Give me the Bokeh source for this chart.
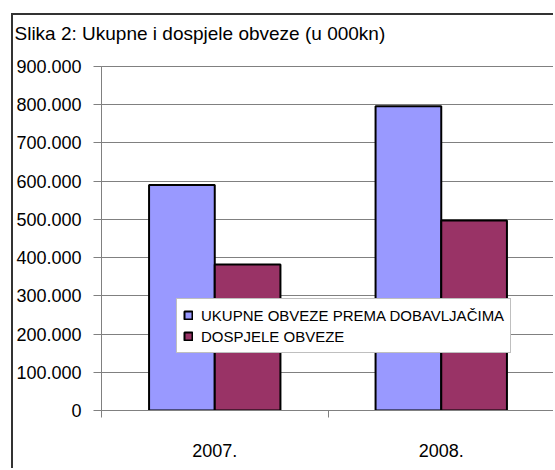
from bokeh.plotting import figure
from bokeh.models import (ColumnDataSource, Range1d, FixedTicker, Legend, LegendItem, Title)
from bokeh.transform import dodge
from bokeh.embed import file_html
from bokeh.resources import INLINE

title = "Slika 2: Ukupne i dospjele obveze (u 000kn)"
years = ["2007.", "2008."]
series_names = ["UKUPNE OBVEZE PREMA DOBAVLJAČIMA", "DOSPJELE OBVEZE"]
ukupne = [590000, 796000]
dospjele = [382000, 497000]
y_ticks = [0, 100000, 200000, 300000, 400000, 500000, 600000, 700000, 800000, 900000]
y_tick_labels = ["0", "100.000", "200.000", "300.000", "400.000", "500.000",
                 "600.000", "700.000", "800.000", "900.000"]
colors = ["#9999FF", "#993366"]

FONT = "Liberation Sans"
GRAY = "#808080"

x_centers = [i + 0.5 for i in range(len(years))]
source = ColumnDataSource(data=dict(x=x_centers, ukupne=ukupne, dospjele=dospjele))

p = figure(width=542, height=455, output_backend="svg", toolbar_location=None,
           x_range=Range1d(0, len(years)), y_range=Range1d(0, 900000),
           min_border_left=87, min_border_right=1, min_border_top=51, min_border_bottom=60)
p.styles = {"margin-left": "11px", "margin-top": "13px",
            "border-left": "2px solid #333333", "border-top": "2px solid #333333"}
p.background_fill_color = "white"
p.border_fill_color = "white"
p.outline_line_color = GRAY
p.outline_line_width = 1

# spacer between the title and the plot area, then the title itself
p.add_layout(Title(text=" ", text_font=FONT, text_font_size="5px"), "above")
p.add_layout(Title(text=title, text_font=FONT, text_font_size="19px",
                   text_font_style="normal", text_color="black",
                   align="left", offset=-87), "above")

r1 = p.vbar(x=dodge("x", -0.145, range=p.x_range), top="ukupne", width=0.29, source=source,
            fill_color=colors[0], line_color="black", line_width=2)
r2 = p.vbar(x=dodge("x", 0.145, range=p.x_range), top="dospjele", width=0.29, source=source,
            fill_color=colors[1], line_color="black", line_width=2)

# y axis
p.yaxis.ticker = FixedTicker(ticks=y_ticks)
p.yaxis.major_label_overrides = {t: l for t, l in zip(y_ticks, y_tick_labels)}
p.yaxis.major_label_text_font = FONT
p.yaxis.major_label_text_font_size = "18px"
p.yaxis.major_label_text_color = "black"
p.yaxis.major_label_standoff = 12
p.yaxis.axis_line_color = GRAY
p.yaxis.major_tick_line_color = GRAY
p.yaxis.major_tick_in = 0
p.yaxis.major_tick_out = 8
p.yaxis.minor_tick_line_color = None

# x axis
p.xaxis.ticker = FixedTicker(ticks=x_centers, minor_ticks=list(range(len(years) + 1)))
p.xaxis.major_label_overrides = {c: y for c, y in zip(x_centers, years)}
p.xaxis.major_label_text_font = FONT
p.xaxis.major_label_text_font_size = "18px"
p.xaxis.major_label_text_color = "black"
p.xaxis.major_label_standoff = 26
p.xaxis.axis_line_color = GRAY
p.xaxis.major_tick_line_color = None
p.xaxis.minor_tick_line_color = GRAY
p.xaxis.minor_tick_in = 0
p.xaxis.minor_tick_out = 7

p.xgrid.grid_line_color = None
p.ygrid.grid_line_color = GRAY
p.ygrid.grid_line_width = 1

legend = Legend(items=[LegendItem(label=series_names[0], renderers=[r1]),
                       LegendItem(label=series_names[1], renderers=[r2])],
                location=(75, 57), orientation="vertical",
                padding=6, spacing=1, margin=0,
                glyph_width=10, glyph_height=10, label_height=20, label_standoff=8,
                label_text_font=FONT, label_text_font_size="15px", label_text_color="black",
                border_line_color=GRAY, border_line_width=1,
                background_fill_color="white", background_fill_alpha=1)
p.add_layout(legend, "center")

open("out.html", "w").write(file_html(p, INLINE))
